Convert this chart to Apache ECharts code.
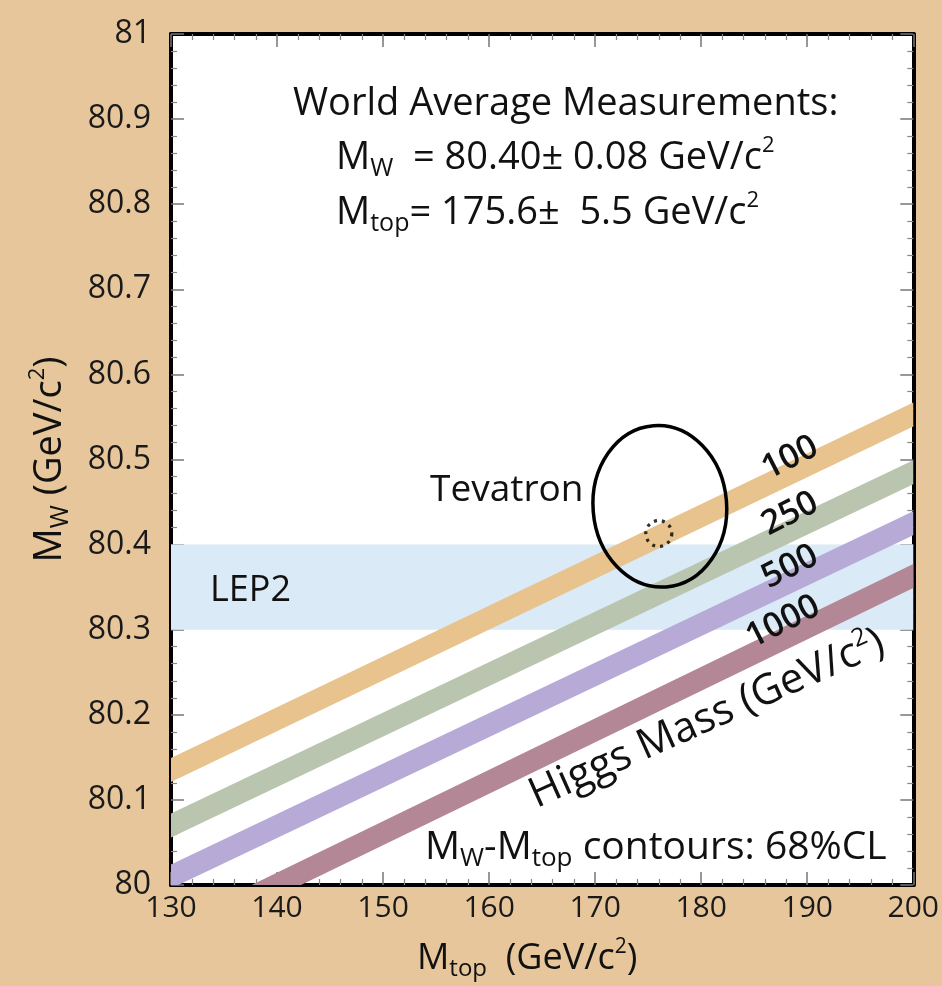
<!DOCTYPE html>
<html><head><meta charset="utf-8">
<script src="https://cdn.jsdelivr.net/npm/echarts@6/dist/echarts.min.js"></script>
<style>html,body{margin:0;padding:0;background:#E6C69A}#c{width:942px;height:986px}</style>
</head><body><div id="c"></div>
<script>
// ---- data ----
const mtopRange = [130, 200];
const mwRange = [80, 81];
const higgsMasses = ['100', '250', '500', '1000'];
const higgsColors = ['#E9C38D', '#B9C5AF', '#B7AAD7', '#B48797'];
const higgsMwAt130 = [80.135, 80.070, 80.010, 79.940];
const higgsMwAt200 = [80.553, 80.485, 80.425, 80.363];
const lep2Band = [80.3, 80.4];
const tevatronContour = [176.1, 80.445, 6.3, 0.095]; // Mtop, MW, half-width, half-height
const worldAveragePoint = [176.0, 80.413];

const FONT = '"Open Sans", sans-serif';
const chart = echarts.init(document.getElementById('c'), null, {renderer: 'canvas'});

function axisCommon(show, size) {
  return {
    axisLine: {show: true, onZero: false, lineStyle: {color: '#000', width: 4}},
    axisTick: {show: true, inside: true, length: 13, lineStyle: {color: '#777', width: 1.5}},
    minorTick: {show: true, splitNumber: 5, length: 6, lineStyle: {color: '#888', width: 1.2}},
    splitLine: {show: false},
    minorSplitLine: {show: false},
    axisLabel: {show: show, color: '#1a1a1a', fontSize: size || 30, fontFamily: FONT}
  };
}

const series = [];
// LEP2 band
series.push({
  type: 'line', data: [], silent: true, z: 1,
  markArea: {
    silent: true,
    itemStyle: {color: '#DAEAF6'},
    data: [[{xAxis: mtopRange[0], yAxis: lep2Band[0]}, {xAxis: mtopRange[1], yAxis: lep2Band[1]}]]
  }
});
// Higgs mass bands
higgsMasses.forEach((m, i) => {
  series.push({
    type: 'custom', name: m, z: 2, clip: true, silent: true,
    data: [[mtopRange[0], higgsMwAt130[i], mtopRange[1], higgsMwAt200[i]]],
    encode: {x: [0, 2], y: [1, 3]},
    renderItem: function (params, api) {
      const a = api.coord([api.value(0), api.value(1)]);
      const b = api.coord([api.value(2), api.value(3)]);
      const h = 12;
      return {
        type: 'polygon',
        shape: {points: [[a[0], a[1] - h], [b[0], b[1] - h], [b[0], b[1] + h], [a[0], a[1] + h]]},
        style: {fill: higgsColors[i]}
      };
    }
  });
});
// Tevatron contour
series.push({
  type: 'custom', z: 5, silent: true,
  data: [tevatronContour],
  encode: {x: 0, y: 1},
  renderItem: function (params, api) {
    const c = api.coord([api.value(0), api.value(1)]);
    const s = api.size([api.value(2), api.value(3)]);
    return {
      type: 'ellipse', x: c[0], y: c[1], rotation: 0.08,
      shape: {cx: 0, cy: 0, rx: s[0], ry: s[1]},
      style: {fill: null, stroke: '#000', lineWidth: 3.5}
    };
  }
});
// World average point
series.push({
  type: 'scatter', z: 6, silent: true,
  symbol: 'circle', symbolSize: 26,
  itemStyle: {color: 'rgba(0,0,0,0)', borderColor: '#000', borderWidth: 3.2, borderType: [3, 5]},
  data: [worldAveragePoint]
});

function makeRich(size) {
  return {
    n: {fontSize: size, fontFamily: FONT, color: '#111', lineHeight: size + 8, verticalAlign: 'middle'},
    sub: {fontSize: Math.round(size * 0.66), fontFamily: FONT, color: '#111', lineHeight: Math.round(size * 0.6), verticalAlign: 'bottom'},
    sup: {fontSize: Math.round(size * 0.58), fontFamily: FONT, color: '#111', lineHeight: Math.round(size * 0.45), verticalAlign: 'top'}
  };
}
function txt(text, x, y, opts) {
  opts = opts || {};
  return {
    type: 'text', x: x, y: y, rotation: opts.rot || 0, z: 100,
    style: {
      text: text, rich: opts.rich, fill: '#111',
      font: (opts.weight || 'normal') + ' ' + (opts.size || 36) + 'px ' + FONT,
      textAlign: opts.align || 'left', textVerticalAlign: 'middle', verticalAlign: 'middle'
    }
  };
}

chart.setOption({
  backgroundColor: '#E6C69A',
  animation: false,
  grid: {left: 171, right: 28, top: 34, bottom: 101, show: true, backgroundColor: '#fff', borderWidth: 0},
  xAxis: [
    Object.assign(axisCommon(true, 30), {
      type: 'value', position: 'bottom', min: mtopRange[0], max: mtopRange[1], interval: 10,
      name: '{n|M}{sub|top}{n|  (GeV/c}{sup|2}{n|)}', nameLocation: 'middle', nameGap: 52,
      nameTextStyle: {rich: makeRich(36), padding: [0, 30, 0, 0]}
    }),
    Object.assign(axisCommon(false), {
      type: 'value', position: 'top', min: mtopRange[0], max: mtopRange[1], interval: 10
    })
  ],
  yAxis: [
    Object.assign(axisCommon(true, 32), {
      type: 'value', position: 'left', min: mwRange[0], max: mwRange[1], interval: 0.1,
      name: '{n|M}{sub|W}{n| (GeV/c}{sup|2}{n|)}', nameLocation: 'middle', nameGap: 98, nameRotate: 90,
      nameTextStyle: {rich: makeRich(38)},
      axisLabel: {show: true, color: '#1a1a1a', fontSize: 32, fontFamily: FONT, margin: 20,
        formatter: v => String(+v.toFixed(1))}
    }),
    Object.assign(axisCommon(false), {
      type: 'value', position: 'right', min: mwRange[0], max: mwRange[1], interval: 0.1
    })
  ],
  series: series,
  graphic: [
    txt('World Average Measurements:', 293, 104, {size: 38}),
    txt('{n|M}{sub|W}{n|  = 80.40± 0.08 GeV/c}{sup|2}', 336, 158, {rich: makeRich(38)}),
    txt('{n|M}{sub|top}{n|= 175.6±  5.5 GeV/c}{sup|2}', 336, 213, {rich: makeRich(38)}),
    txt('Tevatron', 430, 490, {size: 37}),
    txt('LEP2', 210, 591, {size: 36}),
    txt('{n|M}{sub|W}{n|-M}{sub|top}{n| contours: 68%CL}', 425, 848, {rich: makeRich(39)}),
    txt(higgsMasses[0], 790, 458, {align: 'center', rot: 0.47, weight: 600, size: 34}),
    txt(higgsMasses[1], 790, 514, {align: 'center', rot: 0.47, weight: 600, size: 34}),
    txt(higgsMasses[2], 790, 567, {align: 'center', rot: 0.47, weight: 600, size: 34}),
    txt(higgsMasses[3], 783, 622, {align: 'center', rot: 0.47, weight: 600, size: 34}),
    txt('{h|Higgs Mass (GeV/c}{hs|2}{h|)}', 707, 719, {align: 'center', rot: 0.42, rich: {
      h: {fontSize: 42, fontFamily: FONT, color: '#111', lineHeight: 48, verticalAlign: 'middle'},
      hs: {fontSize: 25, fontFamily: FONT, color: '#111', lineHeight: 19, verticalAlign: 'top'}
    }})
  ]
});
</script></body></html>
